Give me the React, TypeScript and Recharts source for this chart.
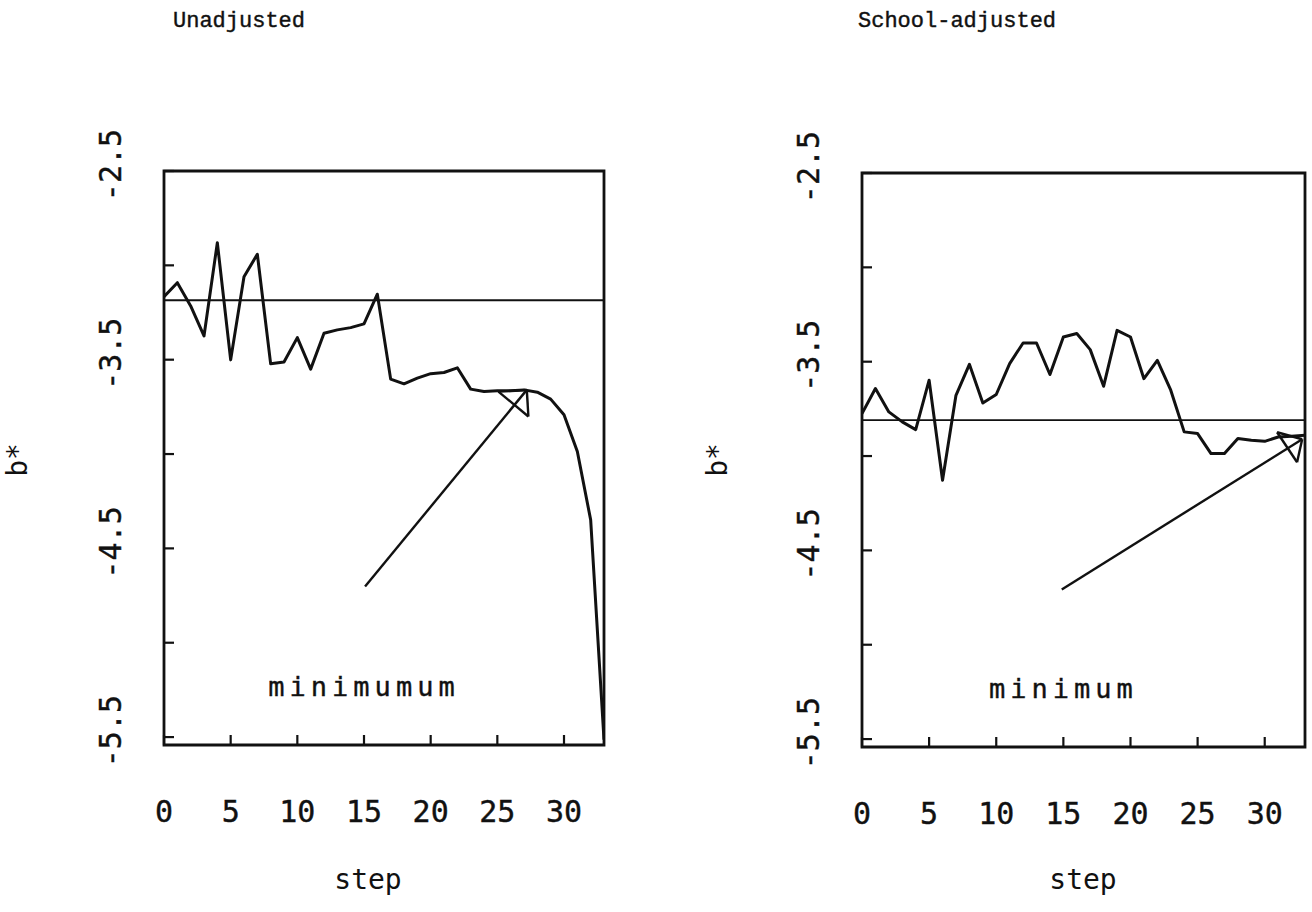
import React from 'react';
import { LineChart, Line, XAxis, YAxis, ReferenceLine, ReferenceArea, ReferenceDot } from 'recharts';

// ---------- data ----------
const steps = [0, 1, 2, 3, 4, 5, 6, 7, 8, 9, 10, 11, 12, 13, 14, 15, 16, 17, 18, 19, 20, 21, 22, 23, 24, 25, 26, 27, 28, 29, 30, 31, 32, 33];

const unadjusted = [
  -3.166, -3.092, -3.215, -3.374, -2.88, -3.501, -3.06, -2.941, -3.522, -3.512,
  -3.383, -3.55, -3.36, -3.342, -3.33, -3.31, -3.153, -3.603, -3.628, -3.598,
  -3.574, -3.568, -3.543, -3.656, -3.669, -3.665, -3.664, -3.66, -3.672, -3.709,
  -3.792, -3.987, -4.349, -5.514,
];

const schoolAdjusted = [
  -3.775, -3.642, -3.766, -3.819, -3.86, -3.598, -4.128, -3.678, -3.514, -3.719,
  -3.674, -3.51, -3.401, -3.401, -3.568, -3.369, -3.351, -3.436, -3.63, -3.334,
  -3.369, -3.59, -3.493, -3.651, -3.872, -3.881, -3.987, -3.987, -3.907, -3.916,
  -3.922, -3.899, -3.895, -3.89,
];

const xTicks = [0, 5, 10, 15, 20, 25, 30];
const yTicks = [-5.5, -5, -4.5, -4, -3.5, -3, -2.5];
const yTickLabels = ['-5.5', '-4.5', '-3.5', '-2.5'];

const unadjustedRef = -3.185;
const schoolRef = -3.81;

// arrow: [start, tip] ; head: [tip, corner A, corner B]
const unadjustedArrow = [[15.08, -4.702], [27.21, -3.66]];
const unadjustedHead = [[27.21, -3.66], [25.08, -3.669], [27.33, -3.801]];
const schoolArrow = [[14.88, -4.707], [32.79, -3.911]];
const schoolHead = [[32.79, -3.911], [30.92, -3.874], [32.41, -4.033]];

const annotationPos = [15, -5.23];
const unadjustedNote = 'minimumum';
const schoolNote = 'minimum';

const X_DOMAIN = [0, 33];
const Y_DOMAIN = [-5.542, -2.5];

const PLOT_FONT = '"DejaVu Sans Mono", "Liberation Mono", monospace';
const TITLE_FONT = '"Liberation Mono", "DejaVu Sans Mono", monospace';
const INK = '#111';

const XTick = (props: any) => {
  const { x, y, payload } = props;
  return (
    <g>
      <line x1={x} x2={x} y1={y} y2={y - 10} stroke={INK} strokeWidth={2.2} />
      <text x={x} y={y + 66} textAnchor="middle" dominantBaseline="central"
        fontFamily={PLOT_FONT} fontSize={30} fill={INK} stroke={INK} strokeWidth={0.4}>{String(payload.value)}</text>
    </g>
  );
};

const YTick = (props: any) => {
  const { x, y, payload } = props;
  const v = payload.value;
  const label = yTickLabels.find((t) => Math.abs(parseFloat(t) - v) < 1e-6);
  return (
    <g>
      <line x1={x} x2={x + 10} y1={y} y2={y} stroke={INK} strokeWidth={2.2} />
      {label && (
        <text transform={`translate(${x - 54},${y - 6}) rotate(-90)`} textAnchor="middle"
          dominantBaseline="central" fontFamily={PLOT_FONT} fontSize={30} fill={INK}
          stroke={INK} strokeWidth={0.4}>{label}</text>
      )}
    </g>
  );
};

type PanelProps = {
  values: number[];
  refValue: number;
  arrow: number[][];
  head: number[][];
  note: string;
  left: number;
  margin: { top: number; right: number; left: number; bottom: number };
  yAxisWidth: number;
  xAxisHeight: number;
};

const Panel = ({ values, refValue, arrow, head, note, left, margin, yAxisWidth, xAxisHeight }: PanelProps) => {
  const data = steps.map((s, i) => ({ step: s, b: values[i] }));
  const segs = [
    [arrow[0], arrow[1]],
    [head[0], head[1]],
    [head[1], head[2]],
    [head[2], head[0]],
  ];
  return (
    <div style={{ position: 'absolute', left, top: 0 }}>
      <LineChart width={656} height={912} data={data} margin={margin}>
        <XAxis type="number" dataKey="step" domain={X_DOMAIN} ticks={xTicks} allowDataOverflow
          axisLine={false} tickLine={false} tickSize={0} tickMargin={0} height={xAxisHeight}
          tick={<XTick />} interval={0} />
        <YAxis type="number" domain={Y_DOMAIN} ticks={yTicks} allowDataOverflow
          axisLine={false} tickLine={false} tickSize={0} tickMargin={0} width={yAxisWidth}
          tick={<YTick />} interval={0} />
        <ReferenceArea x1={X_DOMAIN[0]} x2={X_DOMAIN[1]} y1={Y_DOMAIN[0]} y2={Y_DOMAIN[1]}
          fill="none" fillOpacity={0} stroke={INK} strokeWidth={2.8} ifOverflow="visible" />
        <ReferenceLine y={refValue} stroke={INK} strokeWidth={1.8} />
        {segs.map((s, i) => (
          <ReferenceLine key={i} segment={[{ x: s[0][0], y: s[0][1] }, { x: s[1][0], y: s[1][1] }]}
            stroke={INK} strokeWidth={2.4} ifOverflow="visible" />
        ))}
        <ReferenceDot x={annotationPos[0]} y={annotationPos[1]} r={0} stroke="none" fill="none"
          label={{ value: note, position: 'center', fontFamily: PLOT_FONT, fontSize: 27, fill: INK, letterSpacing: 5, stroke: INK, strokeWidth: 0.4 } as any} />
        <Line type="linear" dataKey="b" stroke={INK} strokeWidth={3} dot={false}
          isAnimationActive={false} strokeLinejoin="round" />
      </LineChart>
    </div>
  );
};

const textStyle = (cx: number, cy: number, size: number, font: string, rotate = 0): React.CSSProperties => ({
  position: 'absolute',
  left: cx,
  top: cy,
  transform: `translate(-50%, -50%) rotate(${rotate}deg)`,
  fontFamily: font,
  fontSize: size,
  lineHeight: 1,
  whiteSpace: 'nowrap',
  color: INK,
});

const titleStyle = (lx: number, cy: number): React.CSSProperties => ({
  position: 'absolute',
  left: lx,
  top: cy,
  transform: 'translateY(-50%)',
  fontFamily: TITLE_FONT,
  fontSize: 22,
  lineHeight: 1,
  whiteSpace: 'nowrap',
  color: INK,
  WebkitTextStroke: '0.4px #111',
});

export default function App() {
  return (
    <div style={{ position: 'absolute', left: 0, top: 0, width: 1312, height: 912, background: '#fff', overflow: 'hidden' }}>
      <Panel values={unadjusted} refValue={unadjustedRef} arrow={unadjustedArrow} head={unadjustedHead}
        note={unadjustedNote} left={0}
        margin={{ top: 171, right: 52, left: 0, bottom: 0 }} yAxisWidth={164} xAxisHeight={167} />
      <Panel values={schoolAdjusted} refValue={schoolRef} arrow={schoolArrow} head={schoolHead}
        note={schoolNote} left={656}
        margin={{ top: 173, right: 7, left: 0, bottom: 0 }} yAxisWidth={206} xAxisHeight={165} />

      <div style={titleStyle(173, 22)}>Unadjusted</div>
      <div style={titleStyle(858, 22)}>School-adjusted</div>

      <div style={textStyle(18, 460, 28, PLOT_FONT, -90)}>b*</div>
      <div style={textStyle(718, 460, 28, PLOT_FONT, -90)}>b*</div>

      <div style={textStyle(368, 880, 28, PLOT_FONT)}>step</div>
      <div style={textStyle(1083, 880, 28, PLOT_FONT)}>step</div>
    </div>
  );
}
